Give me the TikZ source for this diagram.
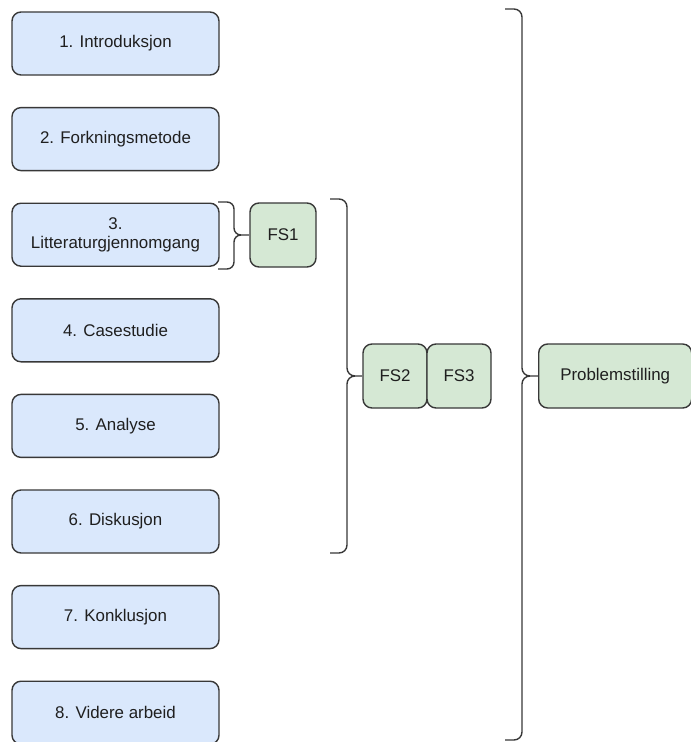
\documentclass[tikz,border=0pt]{standalone}
\usepackage{fontspec}
\setmainfont{Liberation Sans}
\begin{document}
\begin{tikzpicture}[x=1pt,y=-1pt,
  chapter/.style={draw=black!78, line width=1.4pt, fill=chapfill, text=black!88,
    rounded corners=9pt, minimum width=207pt, minimum height=63pt, inner sep=2pt,
    font=\fontsize{16.9}{19.5}\selectfont, align=center},
  question/.style={draw=black!78, line width=1.4pt, fill=qfill, text=black!88,
    rounded corners=9pt, minimum height=64pt, inner sep=2pt,
    font=\fontsize{16.9}{19.5}\selectfont, align=center},
  bracket/.style={draw=black!78, line width=1.4pt}]
\definecolor{chapfill}{HTML}{DAE8FC}
\definecolor{qfill}{HTML}{D5E8D4}
\useasboundingbox (0,0) rectangle (691,742);

% chapter boxes
\foreach \n/\t [count=\i from 0] in {c1/{1. Introduksjon}, c2/{2. Forkningsmetode},
    c3/{3.\\Litteraturgjennomgang}, c4/{4. Casestudie}, c5/{5. Analyse},
    c6/{6. Diskusjon}, c7/{7. Konklusjon}, c8/{8. Videre arbeid}}
  \node[chapter] (\n) at (115.5, 43.5+95.6*\i) {\t};

% research questions
\node[question, minimum width=66pt] (fs1) at (283,235) {FS1};
\node[question, minimum width=64pt] (fs2) at (395,376) {FS2};
\node[question, minimum width=64pt] (fs3) at (459,376) {FS3};
\node[question, minimum width=153pt, anchor=west] (ps) at (538,376) {Problemstilling};

% right-facing curly brackets: x0 x1 tip top bottom mid radius
\newcommand\rbracket[7]{%
  \draw[bracket] (#1,#4) -- (#2-#7,#4) to[out=0,in=90] (#2,#4+#7)
    -- (#2,#6-#7) to[out=-90,in=180] (#2+#7,#6) -- (#3,#6);
  \draw[bracket] (#2+#7,#6) to[out=180,in=90] (#2,#6+#7)
    -- (#2,#5-#7) to[out=-90,in=0] (#2-#7,#5) -- (#1,#5);}
\rbracket{218}{234}{249}{202}{269}{235}{7}
\rbracket{330}{347}{362}{199}{553}{376}{8}
\rbracket{505}{522}{538}{9}{740}{376}{8}
\end{tikzpicture}
\end{document}
